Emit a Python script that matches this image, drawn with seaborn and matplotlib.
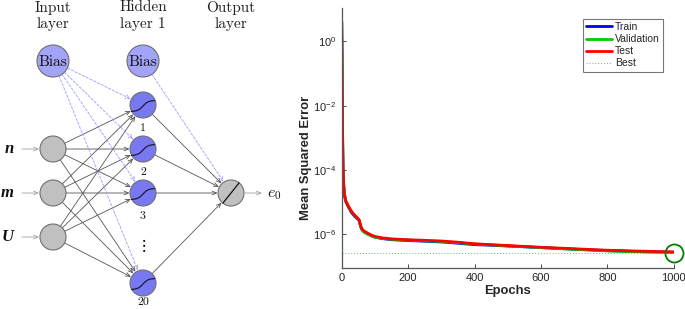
import numpy as np
import pandas as pd
import matplotlib
matplotlib.use("Agg")
import matplotlib.pyplot as plt
import seaborn as sns
from matplotlib.patches import Circle
from matplotlib.lines import Line2D
from matplotlib.ticker import NullLocator, FixedLocator, LogFormatterMathtext

# ---------------- data: training performance ----------------
epochs = [0, 1, 2, 3, 4, 6, 8, 12, 20, 30, 40, 50, 53, 56, 60, 65, 70, 80, 90, 100,
          120, 150, 200, 250, 300, 350, 400, 450, 500, 600, 700, 800, 900, 1000]
mse_train = [4.2, 0.3, 1e-2, 6e-4, 1.2e-4, 3.4e-5, 1.7e-5, 1.05e-5, 7.0e-6, 4.6e-6,
             3.5e-6, 2.8e-6, 2.6e-6, 1.9e-6, 1.45e-6, 1.25e-6, 1.13e-6, 1.0e-6, 8.9e-7, 8.1e-7,
             7.3e-7, 6.7e-7, 6.3e-7, 6.0e-7, 5.7e-7, 5.2e-7, 4.7e-7, 4.5e-7, 4.25e-7, 3.8e-7,
             3.4e-7, 3.05e-7, 2.85e-7, 2.7e-7]
mse_val = [4.2, 0.3, 1e-2, 6e-4, 1.2e-4, 3.5e-5, 1.8e-5, 1.1e-5, 7.3e-6, 4.9e-6,
           3.7e-6, 2.9e-6, 2.6e-6, 1.85e-6, 1.4e-6, 1.2e-6, 1.1e-6, 9.7e-7, 8.7e-7, 8.0e-7,
           7.4e-7, 6.9e-7, 6.5e-7, 6.2e-7, 5.9e-7, 5.4e-7, 4.9e-7, 4.6e-7, 4.3e-7, 3.8e-7,
           3.35e-7, 3.0e-7, 2.8e-7, 2.66e-7]
mse_test = [4.2, 0.3, 1e-2, 6e-4, 1.2e-4, 3.5e-5, 1.8e-5, 1.1e-5, 7.5e-6, 5.0e-6,
            3.8e-6, 3.0e-6, 2.7e-6, 2.0e-6, 1.5e-6, 1.3e-6, 1.2e-6, 1.05e-6, 9.3e-7, 8.5e-7,
            7.7e-7, 7.1e-7, 6.7e-7, 6.4e-7, 6.1e-7, 5.6e-7, 5.0e-7, 4.7e-7, 4.4e-7, 3.9e-7,
            3.5e-7, 3.15e-7, 2.95e-7, 2.8e-7]
best_epoch = 1000
best_perf = 2.66e-7
series_names = ["Train", "Validation", "Test"]
series_colors = ["#0000ff", "#00cc00", "#ff0000"]
x_ticks = [0, 200, 400, 600, 800, 1000]
y_ticks = [1e0, 1e-2, 1e-4, 1e-6]

# ---------------- network diagram structure ----------------
layer_titles = ["Input\nlayer", "Hidden\nlayer 1", "Output\nlayer"]
input_labels = ["n", "m", "U"]
hidden_labels = ["1", "2", "3", "20"]
output_label = r"$e_0$"

sns.set_theme(style="white")
plt.rcParams["font.family"] = ["Liberation Sans", "DejaVu Sans"]
plt.rcParams["mathtext.fontset"] = "custom"
plt.rcParams["mathtext.rm"] = "Liberation Sans"
plt.rcParams["mathtext.it"] = "Liberation Sans:italic"
plt.rcParams["mathtext.bf"] = "Liberation Sans:bold"

fig = plt.figure(figsize=(6.85, 3.09), dpi=100)

# ======================= left: network diagram (pixel coords) =======================
axd = fig.add_axes([0, 0, 285 / 685, 1])
axd.set_xlim(0, 285)
axd.set_ylim(309, 0)
axd.axis("off")

col_x = [53, 143, 231]
in_y = [149, 193, 237]
hid_y = [105, 149, 193, 283]
hid_lab_y = [128, 172, 216, 302]
out_y = 193
bias_y = 61
r_node, r_bias = 13, 16

node_edge = "#707070"
gray_fill = "#c0c0c0"
hid_fill = "#7878f0"
bias_fill = "#a3a3f7"
conn_col = "#555555"
dash_col = "#9a9aff"


def connect(p1, r1, p2, r2, color, ls="-", lw=0.6):
    p1, p2 = np.array(p1, float), np.array(p2, float)
    u = (p2 - p1) / np.linalg.norm(p2 - p1)
    a, b = p1 + u * r1, p2 - u * r2
    axd.annotate("", xy=b, xytext=a,
                 arrowprops=dict(arrowstyle="->,head_length=0.35,head_width=0.15",
                                 color=color, lw=lw, ls=ls, shrinkA=0, shrinkB=0,
                                 mutation_scale=9), zorder=1)


# titles
for x, t in zip(col_x, layer_titles):
    axd.text(x, 16, t, ha="center", va="center", family="cmr10", fontsize=11,
             color="#222222", linespacing=1.25)

# connections input -> hidden
for yi in in_y:
    for yh in hid_y:
        connect((col_x[0], yi), r_node, (col_x[1], yh), r_node + 0.5, conn_col)
# hidden -> output
for yh in hid_y:
    connect((col_x[1], yh), r_node, (col_x[2], out_y), r_node + 0.5, conn_col)
# bias dashed
for yh in hid_y:
    connect((col_x[0], bias_y), r_bias, (col_x[1], yh), r_node + 0.5, dash_col, ls=(0, (3, 2)))
connect((col_x[1], bias_y), r_bias, (col_x[2], out_y), r_node + 0.5, dash_col, ls=(0, (3, 2)))

# input arrows and labels
for yi, lab in zip(in_y, input_labels):
    axd.annotate("", xy=(39, yi), xytext=(22, yi),
                 arrowprops=dict(arrowstyle="->,head_length=0.35,head_width=0.15",
                                 color="#a0a0a0", lw=0.6, shrinkA=0, shrinkB=0,
                                 mutation_scale=9))
    axd.text(14, yi, lab, ha="right", va="center", family="Liberation Serif",
             fontweight="bold", style="italic", fontsize=12, color="#111111")
# output arrow
axd.annotate("", xy=(262, out_y), xytext=(245, out_y),
             arrowprops=dict(arrowstyle="->,head_length=0.35,head_width=0.15",
                             color="#a0a0a0", lw=0.6, shrinkA=0, shrinkB=0, mutation_scale=9))
axd.text(267, out_y + 1, output_label, ha="left", va="center", fontsize=11.5,
         math_fontfamily="cm", color="#111111")

# nodes
for yi in in_y:
    axd.add_patch(Circle((col_x[0], yi), r_node, fc=gray_fill, ec=node_edge, lw=0.8, zorder=3))
s = np.linspace(-1, 1, 40)
for yh, ly, lab in zip(hid_y, hid_lab_y, hidden_labels):
    axd.add_patch(Circle((col_x[1], yh), r_node, fc=hid_fill, ec=node_edge, lw=0.8, zorder=3))
    axd.plot(col_x[1] + 11.5 * s, yh + 1 - 5.5 * np.tanh(2.2 * s), color="#1a1a40", lw=0.9, zorder=4)
    axd.text(col_x[1], ly, lab, ha="center", va="center", family="cmr10",
             fontsize=8.5, color="#111111")
axd.text(col_x[1], 245, r"$\vdots$", ha="center", va="center", math_fontfamily="stix",
         fontsize=12, color="#111111")
for x in col_x[:2]:
    axd.add_patch(Circle((x, bias_y), r_bias, fc=bias_fill, ec=node_edge, lw=0.8, zorder=3))
    axd.text(x, bias_y + 1, "Bias", ha="center", va="center", family="cmr10",
             fontsize=11, color="#111111", zorder=4)
axd.add_patch(Circle((col_x[2], out_y), r_node, fc=gray_fill, ec=node_edge, lw=0.8, zorder=3))
axd.plot([col_x[2] - 8, col_x[2] + 8], [out_y + 10, out_y - 10], color="#111111", lw=0.9, zorder=4)

# ======================= right: performance plot =======================
ax = fig.add_axes([341.7 / 685, 1 - 267.7 / 309, 332 / 685, 259.7 / 309])
df = pd.DataFrame({
    "Epochs": epochs * 3,
    "MSE": mse_train + mse_val + mse_test,
    "set": sum([[n] * len(epochs) for n in series_names], []),
})
sns.lineplot(data=df, x="Epochs", y="MSE", hue="set", hue_order=series_names,
             palette=series_colors, linewidth=2.0, ax=ax, legend=False, sort=False)
ax.set_yscale("log")
ax.set_xlim(0, 1000)
ax.set_ylim(9e-8, 11)

best_col = "#66bb66"
ax.axvline(best_epoch, color=best_col, ls=(0, (1, 2)), lw=0.7)
ax.axhline(best_perf, color=best_col, ls=(0, (1, 2)), lw=0.7)
ax.plot([best_epoch], [best_perf], "o", mfc="none", mec="#008000", ms=13, mew=1.3, clip_on=False)

ax.xaxis.set_major_locator(FixedLocator(x_ticks))
ax.yaxis.set_major_locator(FixedLocator(y_ticks))
ax.yaxis.set_major_formatter(LogFormatterMathtext())
ax.yaxis.set_minor_locator(NullLocator())
ax.tick_params(axis="both", which="major", direction="in", length=3, width=0.6,
               bottom=True, left=True, labelsize=8, colors="#262626", pad=4)
for side in ["top", "right"]:
    ax.spines[side].set_visible(False)
for side in ["left", "bottom"]:
    ax.spines[side].set_color("#555555")
    ax.spines[side].set_linewidth(0.9)

ax.set_xlabel("Epochs", fontsize=9.4, fontweight="bold", color="#262626", labelpad=1)
ax.set_ylabel("Mean Squared Error", fontsize=9.4, fontweight="bold", color="#262626")
ax.yaxis.set_label_coords(-0.09, 0.422)

handles = [Line2D([], [], color=c, lw=2.0) for c in series_colors]
handles.append(Line2D([], [], color=best_col, ls=(0, (1, 2)), lw=0.7))
leg = ax.legend(handles, series_names + ["Best"], loc="upper right",
                bbox_to_anchor=(662.7 / 685, 1 - 19 / 309), bbox_transform=fig.transFigure,
                borderaxespad=0, fontsize=7.5, handlelength=2.5, handletextpad=0.3,
                labelspacing=0.2, borderpad=0.3, fancybox=False, framealpha=1)
leg.get_frame().set_edgecolor("#777777")
leg.get_frame().set_linewidth(0.8)

fig.savefig("out.png", dpi=100)
